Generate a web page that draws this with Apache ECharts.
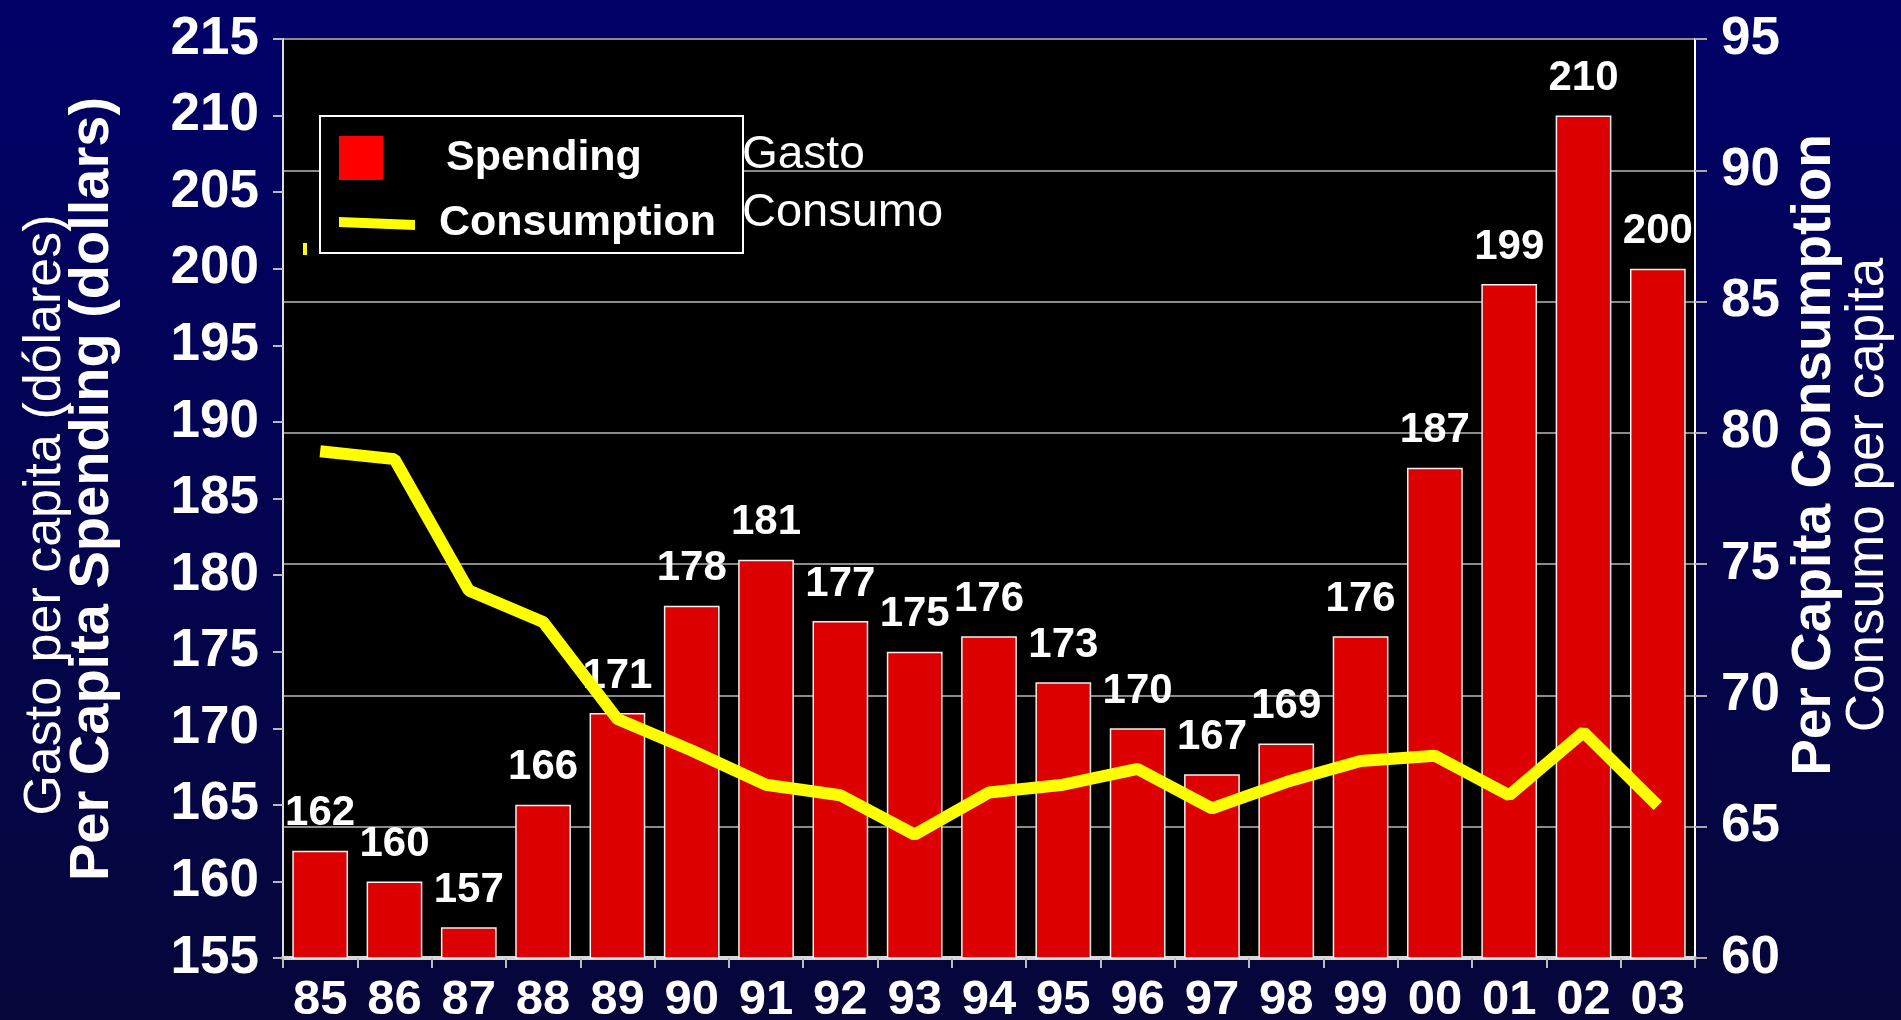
<!DOCTYPE html>
<html>
<head>
<meta charset="utf-8">
<title>Per Capita Spending / Consumption</title>
<script src="https://cdn.jsdelivr.net/npm/echarts/dist/echarts.min.js"></script>
<style>
  html, body { margin: 0; padding: 0; background: #000066; }
  #chart { width: 1901px; height: 1020px; }
</style>
</head>
<body>
<div id="chart"></div>
<script>
// data
const years = ['85', '86', '87', '88', '89', '90', '91', '92', '93', '94', '95', '96', '97', '98', '99', '00', '01', '02', '03'];
const spending = [162, 160, 157, 165, 171, 178, 181, 177, 175, 176, 173, 170, 167, 169, 176, 187, 199, 210, 200];
// the 88 bar is drawn at 165 but labelled 166 in the original
const spendingLabels = ['162', '160', '157', '166', '171', '178', '181', '177', '175', '176', '173', '170', '167', '169', '176', '187', '199', '210', '200'];
const consumption = [79.3, 79.0, 74.0, 72.8, 69.1, 67.9, 66.6, 66.2, 64.7, 66.3, 66.6, 67.2, 65.7, 66.7, 67.5, 67.7, 66.2, 68.6, 65.8];
const leftTicks = [155, 215, 5];
const rightTicks = [60, 95, 5];

const FONT = '"Liberation Sans", Arial, sans-serif';

let myChart = echarts.init(document.getElementById('chart'));
let option = {
  backgroundColor: {
    type: 'linear', x: 0, y: 0, x2: 0, y2: 1,
    colorStops: [
      { offset: 0, color: '#000068' },
      { offset: 1, color: '#06063a' }
    ]
  },
  textStyle: { fontFamily: FONT },
  grid: {
    left: 283, right: 206, top: 39, bottom: 62,
    show: true,
    backgroundColor: '#000',
    borderColor: '#dcdcdc',
    borderWidth: 2,
    outerBoundsMode: 'none'
  },
  legend: [
    {
      data: [{ name: 'Spending', icon: 'rect' }],
      left: 339, top: 136,
      padding: 0,
      itemWidth: 44, itemHeight: 44,
      itemStyle: { borderWidth: 0, color: '#ff0000' },
      textStyle: { color: '#fff', fontSize: 43, fontWeight: 'bold', fontFamily: FONT, padding: [0, 0, 7, 58] },
      selectedMode: false,
      z: 5
    },
    {
      data: [{ name: 'Consumption', icon: 'path://M0,0L76,3L76,13L0,10Z' }],
      left: 339, top: 202,
      padding: 0,
      itemWidth: 76, itemHeight: 13,
      itemStyle: { borderWidth: 0 },
      textStyle: { color: '#fff', fontSize: 43, fontWeight: 'bold', fontFamily: FONT, padding: [0, 0, 0, 19] },
      selectedMode: false,
      z: 5
    }
  ],
  graphic: [
    {
      type: 'rect', z: 3,
      shape: { x: 320, y: 116, width: 423, height: 137 },
      style: { fill: '#000', stroke: '#fff', lineWidth: 2 }
    },
    {
      type: 'text', z: 3, x: 742, y: 155,
      style: { text: 'Gasto', font: '46px ' + FONT, fill: '#fff', align: 'left', verticalAlign: 'middle' }
    },
    {
      type: 'text', z: 3, x: 742, y: 213,
      style: { text: 'Consumo', font: '47px ' + FONT, fill: '#fff', align: 'left', verticalAlign: 'middle' }
    },
    // stray yellow mark left of the legend in the original
    {
      type: 'rect', z: 3,
      shape: { x: 303, y: 243, width: 4, height: 12 },
      style: { fill: '#ffff00' }
    },
    // axis titles, two lines each
    {
      type: 'text', x: 46, y: 515, rotation: Math.PI / 2,
      style: { text: 'Gasto per capita (dólares)', font: '52px ' + FONT, fill: '#fff', align: 'center', verticalAlign: 'middle' }
    },
    {
      type: 'text', x: 93, y: 489, rotation: Math.PI / 2,
      style: { text: 'Per Capita Spending (dollars)', font: 'bold 56px ' + FONT, fill: '#fff', align: 'center', verticalAlign: 'middle' }
    },
    {
      type: 'text', x: 1815, y: 455, rotation: Math.PI / 2,
      style: { text: 'Per Capita Consumption', font: 'bold 55px ' + FONT, fill: '#fff', align: 'center', verticalAlign: 'middle' }
    },
    {
      type: 'text', x: 1868, y: 495, rotation: Math.PI / 2,
      style: { text: 'Consumo per capita', font: '53px ' + FONT, fill: '#fff', align: 'center', verticalAlign: 'middle' }
    }
  ],
  xAxis: {
    type: 'category',
    data: years,
    axisLine: { show: true, lineStyle: { color: '#d8d8d8', width: 4 } },
    axisTick: { show: true, length: 10, lineStyle: { color: '#bbb', width: 2 } },
    axisLabel: { color: '#fff', fontSize: 49, fontWeight: 'bold', margin: 18, interval: 0 },
    splitLine: { show: false }
  },
  yAxis: [
    {
      type: 'value',
      min: leftTicks[0], max: leftTicks[1], interval: leftTicks[2],
      position: 'left',
      axisLine: { show: true, lineStyle: { color: '#dcdcdc', width: 2 } },
      axisTick: { show: true, length: 10, lineStyle: { color: '#bbb', width: 2 } },
      axisLabel: { color: '#fff', fontSize: 53, fontWeight: 'bold', margin: 24 },
      splitLine: { show: false }
    },
    {
      type: 'value',
      min: rightTicks[0], max: rightTicks[1], interval: rightTicks[2],
      position: 'right',
      axisLine: { show: true, lineStyle: { color: '#fff', width: 2 } },
      axisTick: { show: true, length: 12, lineStyle: { color: '#aaa', width: 2 } },
      axisLabel: { color: '#fff', fontSize: 53, fontWeight: 'bold', margin: 26 },
      splitLine: { show: true, lineStyle: { color: '#8a8a8a', width: 2 } }
    }
  ],
  series: [
    {
      name: 'Spending',
      type: 'bar',
      yAxisIndex: 0,
      data: spending,
      barCategoryGap: '25%',
      itemStyle: { color: '#dd0000', borderColor: '#f0f0f0', borderWidth: 1.5 },
      label: {
        show: true,
        position: 'top',
        distance: 16,
        color: '#fff',
        fontSize: 42,
        fontWeight: 'bold',
        fontFamily: FONT,
        formatter: p => spendingLabels[p.dataIndex]
      },
      z: 2
    },
    {
      name: 'Consumption',
      type: 'line',
      yAxisIndex: 1,
      data: consumption,
      symbol: 'none',
      lineStyle: { color: '#ffff00', width: 12 },
      itemStyle: { color: '#ffff00' },
      z: 4
    }
  ]
};
myChart.setOption(option);
</script>
</body>
</html>
